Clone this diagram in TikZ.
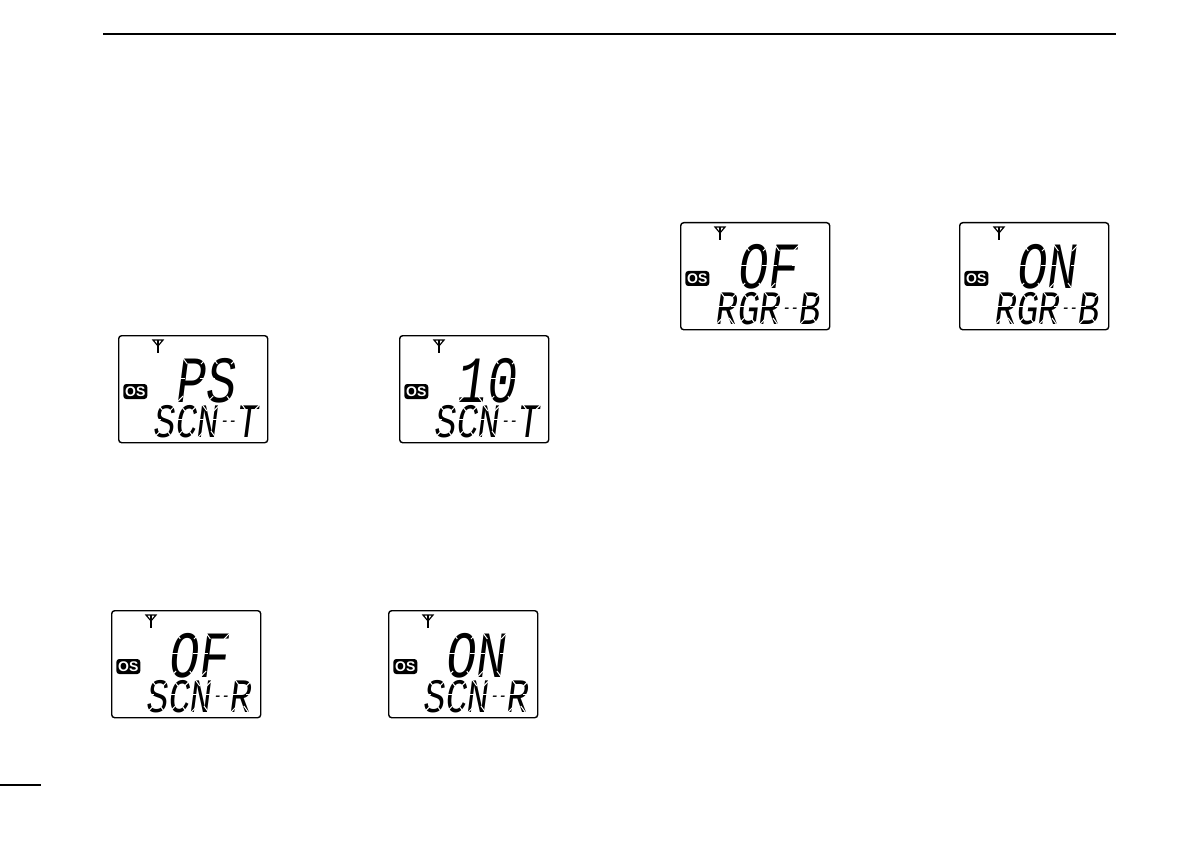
\documentclass[tikz,border=0pt]{standalone}
\usepackage{fontspec}
\setsansfont{Liberation Sans}
\newfontfamily\lcdfont{Liberation Mono}
\tikzset{
    lcdbox/.style={draw,line width=1.4pt,rounded corners=3pt,minimum width=149pt,minimum height=107pt,inner sep=0pt,anchor=north west},
    osbadge/.style={fill=black,text=white,rounded corners=3pt,minimum width=24pt,minimum height=15pt,inner sep=0pt,font=\sffamily\bfseries\fontsize{14}{14}\selectfont},
    bigtext/.style={inner sep=0pt,anchor=base west,transform shape,font=\lcdfont\fontsize{66}{66}\selectfont},
    rowtext/.style={inner sep=0pt,anchor=base west,transform shape,font=\lcdfont\fontsize{48}{48}\selectfont},
    segcut/.style={white,line width=1pt}
}
% white cuts that split a letter into segments: cell left, inner left, inner right, height
\newcommand{\segcuts}[4]{
    \draw [segcut] (#1+#2-2,-#4-2) -- (#1+#2+7,-#4+6);
    \draw [segcut] (#1+#3+2,-#4-2) -- (#1+#3-7,-#4+6);
    \draw [segcut] (#1+#2-2,2) -- (#1+#2+7,-6);
    \draw [segcut] (#1+#3+2,2) -- (#1+#3-7,-6);
    \draw [segcut] (#1+#2-3,-#4/2-1.2) -- (#1+#2+6,-#4/2-1.2);
    \draw [segcut] (#1+#3+3,-#4/2-1.2) -- (#1+#3-6,-#4/2-1.2);
}
% one display: name, left, top, big readout, row text
\newcommand{\lcdpanel}[5]{
    \node (#1) [lcdbox] at (#2,#3) {};
    \begin{scope}[shift={(#2,#3)}]
        \draw [line width=1.2pt] (35,5) -- (45,5) -- (40,11) -- cycle;
        \draw [line width=1.6pt] (40,5) -- (40,18);
        \node (#1os) [osbadge] at (17.3,56.5) {OS};
        \begin{scope}[cm={0.76,0,0.13,1,(56,67)}]
            \node (#1big) [bigtext] at (0,0) {#4};
            \foreach \cellx in {0,39.6}
                \segcuts{\cellx}{4}{36}{44};
        \end{scope}
        \begin{scope}[cm={0.76,0,0.13,1,(34,102)}]
            \node (#1row) [rowtext] at (0,0) {#5};
            \foreach \cellx in {0,28.8,57.6,110}
                \segcuts{\cellx}{3}{26}{32};
        \end{scope}
    \end{scope}
}
\newcommand{\dashes}{\kern1pt\raisebox{11pt}{\fontsize{18}{18}\selectfont -{}-}\kern1pt}
\begin{document}
\begin{tikzpicture}[x=1pt,y=-1pt]
    \useasboundingbox (0,0) rectangle (1191,842);
    \coordinate (headl) at (103,34);
    \coordinate (headr) at (1116,34);
    \coordinate (footl) at (0,785);
    \coordinate (footr) at (41,785);
    \draw [line width=1.5pt] (headl) -- (headr);
    \draw [line width=1.5pt] (footl) -- (footr);
    \lcdpanel{scntp}{118}{335}{PS}{SCN\dashes T}
    \lcdpanel{scntt}{399}{335}{10}{SCN\dashes T}
    \lcdpanel{scnro}{111}{610}{OF}{SCN\dashes R}
    \lcdpanel{scnrn}{388}{610}{ON}{SCN\dashes R}
    \lcdpanel{rgro}{680}{222}{OF}{RGR\dashes B}
    \lcdpanel{rgrn}{959}{222}{ON}{RGR\dashes B}
\end{tikzpicture}
\end{document}
